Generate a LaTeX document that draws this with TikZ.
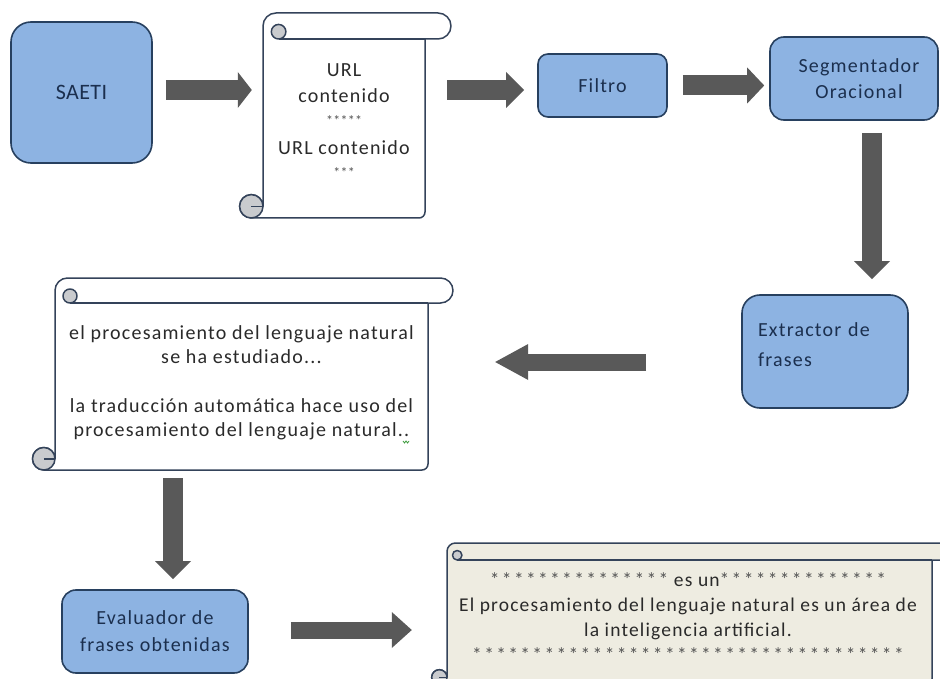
\documentclass[tikz,border=0pt]{standalone}
\usepackage{fontspec}
\setmainfont{Carlito}[LetterSpace=6]
\newfontfamily\starfont{Carlito}[LetterSpace=12]
\newfontfamily\smallstarfont{Carlito}[LetterSpace=2]
\newfontfamily\titlefont{Carlito}[LetterSpace=2]
\usetikzlibrary{arrows.meta}
\definecolor{boxfill}{HTML}{8DB3E2}
\definecolor{boxline}{HTML}{27405F}
\definecolor{boxtext}{HTML}{1B2F4E}
\definecolor{arrowgray}{HTML}{595959}
\definecolor{scrollline}{HTML}{34435A}
\definecolor{curlgray}{HTML}{C9CBCE}
\definecolor{beige}{HTML}{EEECE1}
\definecolor{scrolltext}{HTML}{2A2A2A}
\definecolor{startext}{HTML}{555555}
\definecolor{squiggle}{HTML}{3C9A3C}

\tikzset{
  box/.style={draw=boxline, fill=boxfill, line width=1.6pt, text=boxtext,
    inner sep=0pt, align=center, font=\fontsize{20}{26}\selectfont},
  frame/.style={draw=none, inner sep=0pt},
  stext/.style={text=scrolltext, align=center, inner sep=0pt},
  scrollborder/.style={draw=scrollline, line width=1.5pt, line join=round},
  blk/.style 2 args={draw=arrowgray, line width=#1,
    -{Triangle[width=36pt, length=#2, line width=0pt]}},
}

% L R T H B fill
\newcommand\scrollshape[6]{%
  \pgfmathsetmacro\hh{#4/2}%
  \pgfmathsetmacro\cc{0.45*#4}%
  \filldraw[scrollborder, fill=#6]
    (#1,{-(#5-\cc)}) -- (#1,{-(#3+\hh)})
    arc[start angle=180, end angle=90, radius=\hh]
    -- ({#2+#4-\hh},{-#3})
    arc[start angle=90, end angle=-90, radius=\hh]
    -- (#2,{-(#3+#4)})
    -- (#2,{-(#5-6)})
    arc[start angle=0, end angle=-90, radius=6]
    -- ({#1-\cc},{-#5})
    arc[start angle=270, end angle=0, radius=\cc] -- cycle;
  \filldraw[scrollborder, fill=curlgray] ({#1-\cc},{-(#5-\cc)}) circle[radius=\cc];
  \draw[scrollborder] ({#1-\cc},{-(#5-\cc)}) -- (#1,{-(#5-\cc)});
  \filldraw[scrollborder, fill=curlgray] ({#1+0.6*#4},{-(#3+0.72*#4)}) circle[radius={0.28*#4}];
  \draw[scrollborder] ({#1+0.6*#4},{-(#3+#4)}) -- (#2,{-(#3+#4)});
}
\newcommand\stars[1]{{\color{startext}\starfont#1}}
\newcommand\smallstars[1]{{\color{startext}\smallstarfont\fontsize{14}{26}\selectfont\raisebox{3pt}{#1}}}

\begin{document}
\begin{tikzpicture}[x=1pt,y=1pt]
\useasboundingbox (0,0) rectangle (940,-679);
\clip (0,0) rectangle (940,-679);
\fill[white] (0,0) rectangle (940,-679);

% scrolls
\scrollshape{263}{425}{13}{26}{218}{white}
\scrollshape{55}{428}{278}{25}{470}{white}
\scrollshape{447}{932}{543}{17}{685}{beige}

\node[frame, minimum width=162pt, minimum height=205pt] (s1) at (344,-115.5) {};
\node[frame, minimum width=373pt, minimum height=192pt] (s2) at (241.5,-374) {};
\node[frame, minimum width=485pt, minimum height=142pt] (s3) at (689.5,-614) {};

% scroll texts
\node[stext, font=\fontsize{20}{26}\selectfont] (t1) at (344,-122.5)
  {URL\\contenido\\\smallstars{*****}\\URL contenido\\\smallstars{***}};
\node[stext, font=\fontsize{20}{24}\selectfont] (t2) at (241.5,-383)
  {el procesamiento del lenguaje natural\\se ha estudiado...\\[25pt]la traducción automática hace uso del\\procesamiento del lenguaje natural..};
\draw[squiggle, line width=0.8pt] (403,-441) -- (404.5,-443) -- (406,-441) -- (407.5,-443) -- (409,-441);
\node[stext, font=\fontsize{19.5}{25}\selectfont] (t3) at (688,-617)
  {\stars{***************} es un\stars{**************}\\El procesamiento del lenguaje natural es un área de\\la inteligencia artificial.\\\stars{************************************}};

% boxes
\node[box, minimum width=141pt, minimum height=141pt, rounded corners=20pt, font=\titlefont\fontsize{22}{26}\selectfont] (saeti) at (81.5,-92.5) {SAETI};
\node[box, minimum width=129pt, minimum height=63pt, rounded corners=10pt] (filtro) at (602.5,-85.5) {Filtro};
\node[box, minimum width=168pt, minimum height=83pt, rounded corners=14pt] (seg) at (854,-78.5) {\hspace*{10pt}Segmentador\\\hspace*{10pt}Oracional};
\node[box, minimum width=166pt, minimum height=113pt, rounded corners=18pt, align=left, text width=134pt, text depth=44pt, font=\fontsize{20}{30}\selectfont] (ext) at (825,-351.5) {Extractor de\\frases};
\node[box, minimum width=186pt, minimum height=83pt, rounded corners=14pt, font=\fontsize{20}{27}\selectfont] (eval) at (155,-631.5) {Evaluador de\\frases obtenidas};

% arrow anchor points
\coordinate (a1) at ([yshift=2.5pt]saeti.east);
\coordinate (a2) at ([yshift=-4.5pt]filtro.west);
\coordinate (d1) at ([xshift=18pt]seg.south);
\coordinate (l1) at ([yshift=-10.5pt]ext.west);
\coordinate (d2) at ([xshift=18pt]eval.north);
\coordinate (r2) at ([yshift=1.5pt]eval.east);

% block arrows
\draw[blk={20pt}{14pt}, shorten <=13pt, shorten >=11pt] (a1) -- (a1 -| s1.west);
\draw[blk={20pt}{18pt}, shorten <=22pt, shorten >=13pt] (a2 -| s1.east) -- (a2);
\draw[blk={20pt}{17pt}, shorten <=15pt, shorten >=5pt] (filtro.east) -- (filtro.east -| seg.west);
\draw[blk={20pt}{18pt}, shorten <=12pt, shorten >=15pt] (d1) -- (d1 |- ext.north);
\draw[blk={17pt}{33pt}, shorten <=95pt, shorten >=67pt] (l1) -- (l1 -| s2.east);
\draw[blk={20pt}{18pt}, shorten <=8pt, shorten >=10pt] (d2 |- s2.south) -- (d2);
\draw[blk={17pt}{20pt}, shorten <=42pt, shorten >=35pt] (r2) -- (r2 -| s3.west);
\end{tikzpicture}
\end{document}
